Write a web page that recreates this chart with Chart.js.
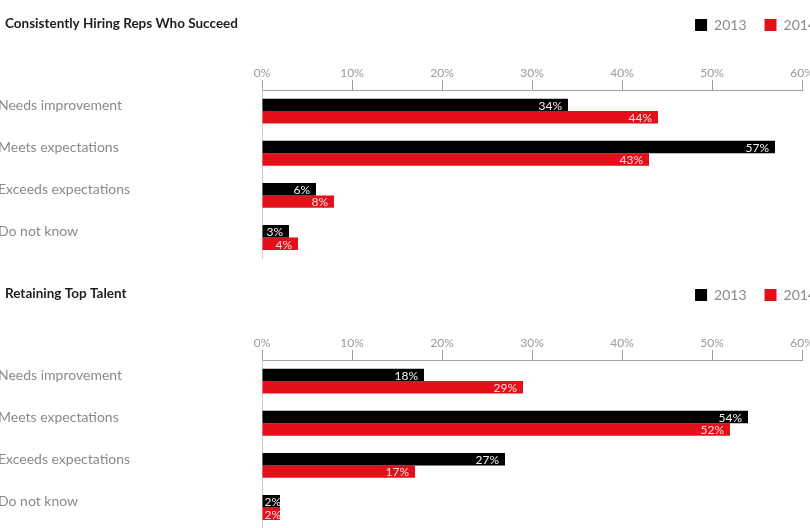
<!DOCTYPE html>
<html>
<head>
<meta charset="utf-8">
<script src="https://cdn.jsdelivr.net/npm/chart.js@4"></script>
<style>
  html, body { margin: 0; padding: 0; background: #fff; overflow: hidden; width: 810px; height: 528px; }
  .panel { position: absolute; left: -2px; width: 862px; height: 270px; }
  #p1 { top: 0; }
  #p2 { top: 270px; }
</style>
</head>
<body>
<div class="panel" id="p1"><canvas id="hiringChart"></canvas></div>
<div class="panel" id="p2"><canvas id="retainChart"></canvas></div>
<script>
// survey answers, percent of respondents
const categories = ['Needs improvement', 'Meets expectations', 'Exceeds expectations', 'Do not know'];
const years = ['2013', '2014'];
const hiring2013 = [34, 57, 6, 3];
const hiring2014 = [44, 43, 8, 4];
const retaining2013 = [18, 54, 27, 2];
const retaining2014 = [29, 52, 17, 2];
const axisMin = 0;
const axisMax = 60;
const axisStep = 10;

const BLACK = '#000000';
const RED = '#e3101a';
const FONT = 'Lato, "Open Sans", sans-serif';

// title sits on the same row as the legend, so draw it ourselves;
// the legend runs past the plot edge like in the print layout
const panelHeader = {
    id: 'panelHeader',
    afterLayout(chart, args, opts) {
        chart.legend.left += opts.legendShift;
        chart.legend.right += opts.legendShift;
    },
    afterDraw(chart, args, opts) {
        const ctx = chart.ctx;
        ctx.save();
        ctx.font = 'bold 13.5px ' + FONT;
        ctx.fillStyle = '#1e1e1e';
        ctx.textAlign = 'left';
        ctx.textBaseline = 'middle';
        ctx.fillText(opts.text, 7, 24);
        ctx.restore();
    }
};

// value labels inside the end of every bar
const barValues = {
    id: 'barValues',
    afterDatasetsDraw(chart) {
        const ctx = chart.ctx;
        ctx.save();
        ctx.font = '12px ' + FONT;
        ctx.textAlign = 'right';
        ctx.textBaseline = 'middle';
        chart.data.datasets.forEach((ds, di) => {
            const meta = chart.getDatasetMeta(di);
            meta.data.forEach((bar, i) => {
                const text = ds.data[i] + '%';
                const w = ctx.measureText(text).width;
                const x = Math.max(bar.x - 6, bar.base + w + 2);
                ctx.fillStyle = di === 0 ? '#f2f2f2' : '#ffe0e0';
                ctx.fillText(text, x, bar.y + 1);
            });
        });
        ctx.restore();
    }
};

function createPanel(canvasId, title, values2013, values2014) {
    const ctx = document.getElementById(canvasId).getContext('2d');
    new Chart(ctx, {
        type: 'bar',
        data: {
            labels: categories,
            datasets: [{
                label: years[0],
                data: values2013,
                backgroundColor: BLACK,
                borderWidth: 0
            }, {
                label: years[1],
                data: values2014,
                backgroundColor: RED,
                borderWidth: 0
            }]
        },
        options: {
            indexAxis: 'y',
            responsive: true,
            maintainAspectRatio: false,
            animation: false,
            categoryPercentage: 0.59,
            barPercentage: 1,
            layout: {
                padding: { top: 0, right: 58, bottom: 8, left: 0 }
            },
            plugins: {
                legend: {
                    position: 'top',
                    align: 'end',
                    labels: {
                        boxWidth: 12,
                        boxHeight: 12,
                        padding: 18,
                        color: '#8a8a8a',
                        font: { family: FONT, size: 14 }
                    }
                },
                tooltip: { enabled: false },
                panelHeader: { text: title, legendShift: 32 }
            },
            scales: {
                x: {
                    position: 'top',
                    min: axisMin,
                    max: axisMax,
                    afterFit: function(scale) {
                        scale.height = 90 - scale.chart.legend.height;
                    },
                    ticks: {
                        stepSize: axisStep,
                        padding: 0,
                        color: '#9a9a9a',
                        font: { family: FONT, size: 12 },
                        callback: function(value) { return value + '%'; }
                    },
                    grid: {
                        drawOnChartArea: false,
                        tickLength: 10,
                        color: '#a0a0a0'
                    },
                    border: { color: '#a0a0a0' }
                },
                y: {
                    afterFit: function(scale) {
                        scale.width = 264;
                    },
                    ticks: {
                        crossAlign: 'far',
                        labelOffset: -6,
                        color: '#8a8a8a',
                        font: { family: FONT, size: 14 }
                    },
                    grid: { drawOnChartArea: false, drawTicks: false },
                    border: { color: '#cfcfcf' }
                }
            }
        },
        plugins: [panelHeader, barValues]
    });
}

createPanel('hiringChart', 'Consistently Hiring Reps Who Succeed', hiring2013, hiring2014);
createPanel('retainChart', 'Retaining Top Talent', retaining2013, retaining2014);
</script>
</body>
</html>
